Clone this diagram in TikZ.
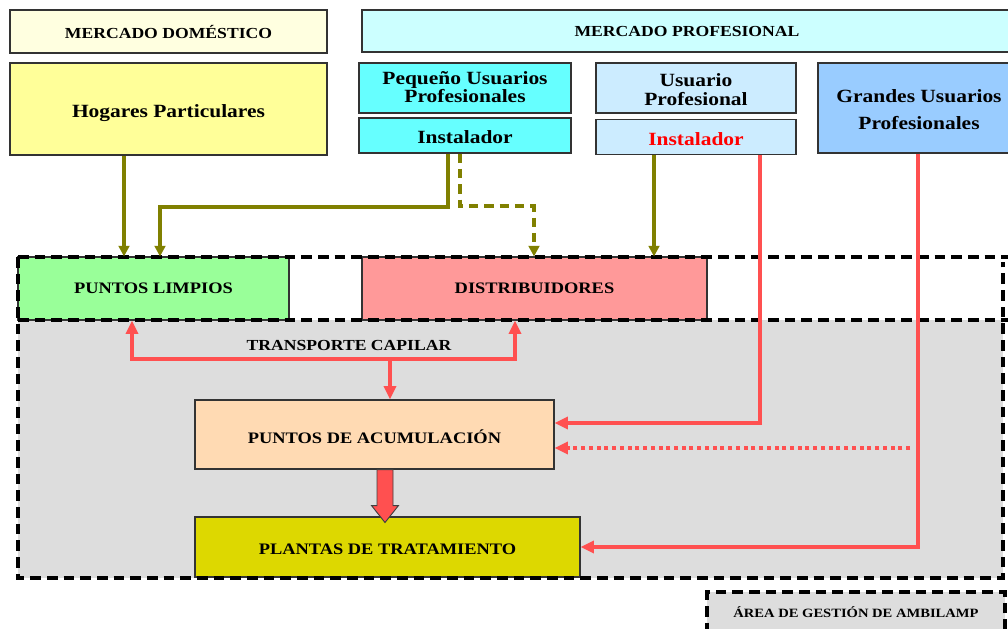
\documentclass[tikz,border=0pt]{standalone}
\usepackage{fontspec}
\setmainfont{Liberation Serif}[FakeStretch=1.15]
\usetikzlibrary{arrows.meta}
\definecolor{domfill}{RGB}{255,255,224}
\definecolor{hogfill}{RGB}{255,255,153}
\definecolor{proffill}{RGB}{204,255,255}
\definecolor{peqfill}{RGB}{102,255,255}
\definecolor{usufill}{RGB}{204,236,255}
\definecolor{grafill}{RGB}{153,204,255}
\definecolor{limpfill}{RGB}{153,255,153}
\definecolor{distfill}{RGB}{255,153,153}
\definecolor{acumfill}{RGB}{255,218,179}
\definecolor{planfill}{RGB}{221,216,0}
\definecolor{zonefill}{RGB}{221,221,221}
\definecolor{olivel}{RGB}{128,128,0}
\definecolor{redl}{RGB}{255,80,80}
\definecolor{redtxt}{RGB}{255,0,0}
\newcommand\dropby[2]{\raisebox{-#1pt}[\height][\depth]{#2}}
\begin{document}
\begin{tikzpicture}[x=0.75pt,y=-0.75pt,
  box/.style={draw=black!80,line width=0.8pt,inner sep=0pt,align=center,font=\bfseries\fontsize{14}{13}\selectfont},
  capbox/.style={box,font=\bfseries\fontsize{12}{12}\selectfont},
  oarrow/.style={draw=olivel,line width=2.6pt,-{Triangle[width=8pt,length=8pt]}},
  rarrow/.style={draw=redl,line width=2.6pt,-{Triangle[width=9pt,length=10pt]}},
  rboth/.style={draw=redl,line width=2.6pt,{Triangle[width=9pt,length=10pt]}-{Triangle[width=9pt,length=10pt]}},
  zone/.style={black,line width=2.8pt,dash pattern=on 8pt off 4.5pt}]
\useasboundingbox (0,0) rectangle (1008,629);
% shaded area
\fill[zonefill](18,320)rectangle(1003,578);
\node[draw=black,zone,fill=zonefill,minimum width=223.5pt,minimum height=30pt,inner sep=0pt,
  font=\bfseries\fontsize{9.5}{9.5}\selectfont](area)at(856,612){ÁREA DE GESTIÓN DE AMBILAMP};
% markets
\node[capbox,fill=domfill,minimum width=237.75pt,minimum height=32.25pt,font=\bfseries\fontsize{11.5}{11.5}\selectfont](dom)at(168.5,31.5){MERCADO DOMÉSTICO};
\node[capbox,fill=proffill,minimum width=487.5pt,minimum height=31.5pt,font=\bfseries\fontsize{11.5}{11.5}\selectfont](prof)at(687,31){MERCADO PROFESIONAL};
\node[box,fill=hogfill,minimum width=237.75pt,minimum height=69pt](hog)at(168.5,109){\dropby{3.4}{Hogares Particulares}};
\node[box,fill=peqfill,minimum width=159pt,minimum height=37.5pt](peq)at(465,88){\dropby{1}{\begin{tabular}{@{}c@{}}Pequeño Usuarios\\Profesionales\end{tabular}}};
\node[box,fill=peqfill,minimum width=159pt,minimum height=26.25pt](inst1)at(465,135.5){\dropby{1.5}{Instalador}};
\node[box,fill=usufill,minimum width=150pt,minimum height=37.5pt,font=\bfseries\fontsize{14}{13.5}\selectfont](usu)at(696,88){\dropby{3}{\begin{tabular}{@{}c@{}}Usuario\\Profesional\end{tabular}}};
\node[box,fill=usufill,minimum width=150pt,minimum height=26.25pt,text=redtxt](inst2)at(696,137){\dropby{1.5}{Instalador}};
\node[box,fill=grafill,minimum width=151.5pt,minimum height=67.5pt,font=\bfseries\fontsize{14}{20}\selectfont](gra)at(919,108){\dropby{2}{\begin{tabular}{@{}c@{}}Grandes Usuarios\\Profesionales\end{tabular}}};
% collection
\node[capbox,fill=limpfill,minimum width=203.25pt,minimum height=47.25pt](limp)at(153.5,288.5){PUNTOS LIMPIOS};
\node[capbox,fill=distfill,minimum width=258.75pt,minimum height=47.25pt](dist)at(534.5,288.5){DISTRIBUIDORES};
\node[capbox,fill=acumfill,minimum width=269.25pt,minimum height=51.75pt](acum)at(374.5,434.5){\dropby{2}{PUNTOS DE ACUMULACIÓN}};
\node[capbox,fill=planfill,minimum width=288.75pt,minimum height=45pt](plan)at(387.5,547){\dropby{1.5}{PLANTAS DE TRATAMIENTO}};
\node[font=\bfseries\fontsize{11.5}{11.5}\selectfont](trans)at(349,345){TRANSPORTE CAPILAR};
% dashed border of the area
\draw[zone](18,257)--(1008,257);
\draw[zone](18,320)--(1008,320);
\draw[zone](18,257)--(18,578)--(1003,578)--(1003,262);
% lanes
\path(124,0)coordinate(la)(160,207)coordinate(lb)(448,0)coordinate(lc)(460,206)coordinate(ld)
  (534,0)coordinate(le)(654,0)coordinate(lf)(760,423)coordinate(lg)(918,547)coordinate(lh)
  (910,448)coordinate(li)(132,0)coordinate(lj)(515,0)coordinate(lk)(390,359)coordinate(ll)(385,0)coordinate(bx);
\draw[oarrow](hog.south-|la)--(limp.north-|la);
\draw[oarrow](inst1.south-|lc)|-(lb)--(limp.north-|lb);
\draw[oarrow,dash pattern=on 7pt off 4.5pt](inst1.south-|ld)--(ld)-|(dist.north-|le);
\draw[oarrow](inst2.south-|lf)--(dist.north-|lf);
\draw[rarrow](inst2.south-|lg)|-(acum.east|-lg);
\draw[rarrow,dash pattern=on 3pt off 2.8pt](li)--(acum.east|-li);
\draw[rarrow](gra.south-|lh)|-(plan.east|-lh);
\draw[rboth](limp.south-|lj)|-(ll)-|(dist.south-|lk);
\draw[rarrow](ll)--(acum.north-|ll);
% block arrow
\draw[fill=redl,draw=black!75,line width=0.7pt](acum.south-|bx)++(-8,0)--++(0,36)--++(-5.5,0)--++(13.5,17)--++(13.5,-17)--++(-5.5,0)--++(0,-36)--cycle;
\end{tikzpicture}
\end{document}
